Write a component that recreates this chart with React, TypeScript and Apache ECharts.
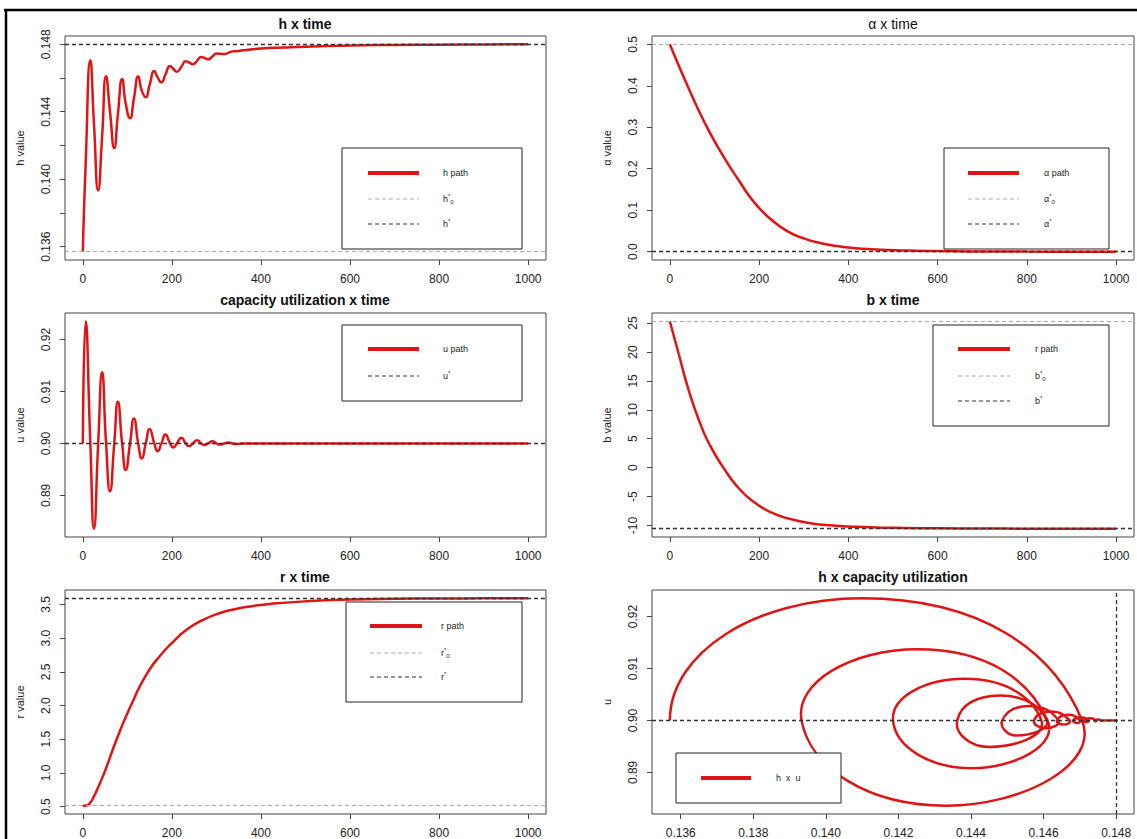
import React, { useEffect, useRef } from "react";
import * as echarts from "echarts";

// ---------------- data ----------------
// shared time grid for h and u (used also for the h x u phase plot)
const T = [0, 6.5, 16.9, 25, 34.5, 43.3, 52.2, 61, 70.6, 78.7, 88.3, 96.3, 106, 114.8, 124.4, 132.4, 141.3, 150, 160.5, 167.7, 176.6, 185.4, 195.8, 203, 211, 221.5, 231, 239, 247, 256.5, 265.7, 274, 281.7, 291, 300, 309, 318, 327, 336, 345, 360, 400, 450, 500, 600, 700, 800, 900, 1000];
const H = [0.1357, 0.141, 0.14706, 0.14332, 0.13933, 0.14251, 0.14611, 0.14403, 0.14185, 0.14383, 0.14594, 0.14449, 0.14362, 0.1448, 0.14609, 0.14525, 0.14486, 0.1456, 0.14641, 0.14605, 0.14574, 0.1462, 0.14672, 0.14655, 0.14637, 0.14668, 0.147, 0.14692, 0.14682, 0.14702, 0.14725, 0.14718, 0.14711, 0.14728, 0.14745, 0.14744, 0.14742, 0.1475, 0.14758, 0.14759, 0.14764, 0.14775, 0.14781, 0.14786, 0.14793, 0.14796, 0.14798, 0.14799, 0.148];
const U = [0.9, 0.9235, 0.9, 0.8836, 0.9, 0.9137, 0.9, 0.8908, 0.9, 0.908, 0.9, 0.8949, 0.9, 0.9048, 0.9, 0.8971, 0.9, 0.9028, 0.9, 0.8985, 0.9, 0.9017, 0.9, 0.8992, 0.9, 0.9011, 0.9, 0.8995, 0.9, 0.9006, 0.9, 0.8997, 0.9, 0.9004, 0.9, 0.8998, 0.9, 0.9002, 0.9, 0.8999, 0.9, 0.9, 0.9, 0.9, 0.9, 0.9, 0.9, 0.9, 0.9];

const TA = [0, 42, 79, 116, 154, 191, 229, 266, 303, 341, 378, 415, 453, 505, 600, 700, 800, 900, 1000];
const A = [0.5, 0.394, 0.309, 0.237, 0.1728, 0.1165, 0.076, 0.048, 0.031, 0.02, 0.013, 0.0085, 0.0058, 0.0038, 0.0014, 0.0005, 0.0002, 0.0001, 0];

const TB = [0, 20, 43, 66, 89, 120, 157, 194, 231, 268, 305, 342, 417, 505, 600, 700, 800, 900, 1000];
const B = [25.3, 19.6, 13.2, 8.05, 4.0, 0.0, -3.77, -6.24, -7.87, -8.84, -9.48, -9.87, -10.22, -10.4, -10.48, -10.52, -10.54, -10.55, -10.55];

const TR = [0, 8, 15, 23, 48, 76, 108, 142, 175, 205, 233, 271, 308, 346, 383, 420, 500, 600, 700, 800, 900, 1000];
const R = [0.515, 0.518, 0.545, 0.625, 1.0, 1.5, 2.0, 2.45, 2.75, 2.96, 3.124, 3.273, 3.372, 3.436, 3.476, 3.506, 3.545, 3.572, 3.583, 3.587, 3.589, 3.59];

const H0 = 0.1357;
const H_STAR = 0.148;
const A0 = 0.5;
const A_STAR = 0;
const U_STAR = 0.9;
const B0 = 25.3;
const B_STAR = -10.55;
const R0 = 0.515;
const R_STAR = 3.59;

const TIME_TICKS = [0, 200, 400, 600, 800, 1000];
const H_TICKS = [0.136, 0.138, 0.14, 0.142, 0.144, 0.146, 0.148];
const H_LABELS = [0.136, 0.14, 0.144, 0.148];
const A_TICKS = [0, 0.1, 0.2, 0.3, 0.4, 0.5];
const U_TICKS = [0.89, 0.9, 0.91, 0.92];
const B_TICKS = [-10, -5, 0, 5, 10, 15, 20, 25];
const R_TICKS = [0.5, 1, 1.5, 2, 2.5, 3, 3.5];

// ---------------- styling ----------------
const FONT = '"Liberation Sans", Arial, Helvetica, sans-serif';
const RED = "#e01414";
const GRAY = "#aaaaaa";
const DARK = "#333333";
const AXC = "#444444";
const TXC = "#222222";
const SMOOTH = 0.55;
const TICK_FS = 12;

const zip = (xs: number[], ys: number[]) => xs.map((x, i) => [x, ys[i]]);
const pad = (arr: number[]) => {
  const mn = Math.min(...arr);
  const mx = Math.max(...arr);
  const r = mx - mn;
  return [mn - 0.04 * r, mx + 0.04 * r];
};

const TIME_EXT = pad(T);
const H_EXT = pad(H);
const U_EXT = pad(U);
const A_EXT = pad(A);
const B_EXT = pad(B);
const R_EXT = pad(R);

function xAx(gi: number, ext: number[], ticks: number[], labels: number[], dec: number) {
  return {
    type: "value",
    gridIndex: gi,
    min: ext[0],
    max: ext[1],
    axisLine: { show: false, onZero: false },
    splitLine: { show: false },
    axisTick: { show: true, length: 5, lineStyle: { color: AXC, width: 1 }, customValues: ticks },
    axisLabel: {
      show: true,
      customValues: labels,
      formatter: (v: number) => v.toFixed(dec),
      color: TXC,
      fontSize: TICK_FS,
      fontFamily: FONT,
      margin: 13,
    },
  };
}

function yAx(gi: number, ext: number[], ticks: number[], labels: number[], dec: number, name: string) {
  return {
    type: "value",
    gridIndex: gi,
    min: ext[0],
    max: ext[1],
    axisLine: { show: false, onZero: false },
    splitLine: { show: false },
    axisTick: { show: true, length: 5, lineStyle: { color: AXC, width: 1 }, customValues: ticks },
    axisLabel: {
      show: true,
      customValues: labels,
      formatter: (v: number) => v.toFixed(dec),
      color: TXC,
      fontSize: TICK_FS,
      fontFamily: FONT,
      rotate: 90,
      margin: 13,
    },
    name,
    nameLocation: "middle",
    nameRotate: 90,
    nameGap: 40,
    nameTextStyle: { color: TXC, fontSize: 11, fontFamily: FONT },
  };
}

const lineInit = { color: GRAY, type: [4, 3], width: 1 };
const lineEq = { color: DARK, type: [4, 3], width: 1.3 };

function ml(items: any[]) {
  return {
    silent: true,
    precision: 10,
    symbol: ["none", "none"],
    label: { show: false },
    animation: false,
    emphasis: { disabled: true },
    data: items,
  };
}

function pathSeries(xi: number, data: number[][], marks: any[]) {
  return {
    type: "line",
    xAxisIndex: xi,
    yAxisIndex: xi,
    data,
    smooth: SMOOTH,
    showSymbol: false,
    symbol: "none",
    silent: true,
    lineStyle: { color: RED, width: 2.5 },
    itemStyle: { color: RED },
    z: 3,
    markLine: ml(marks),
  };
}

// smooth cubic path through pixel points (same rule as ECharts line smoothing);
// the trajectory starts at a turning point of h, so its first tangent is mirrored.
function smoothPath(pts: number[][], s: number) {
  const n = pts.length;
  const tg = pts.map((p, i) => {
    const prev = i > 0 ? pts[i - 1] : [pts[1][0], 2 * p[1] - pts[1][1]];
    const next = i < n - 1 ? pts[i + 1] : null;
    if (!next) return { ci: [0, 0], co: [0, 0] };
    const vx = next[0] - prev[0];
    const vy = next[1] - prev[1];
    const d0 = Math.hypot(p[0] - prev[0], p[1] - prev[1]);
    const d1 = Math.hypot(next[0] - p[0], next[1] - p[1]);
    const r = d0 + d1 > 0 ? d1 / (d0 + d1) : 0.5;
    return { ci: [vx * s * (1 - r), vy * s * (1 - r)], co: [vx * s * r, vy * s * r] };
  });
  let d = `M${pts[0][0].toFixed(2)} ${pts[0][1].toFixed(2)}`;
  for (let i = 1; i < n; i++) {
    const a = pts[i - 1];
    const b = pts[i];
    const c1x = a[0] + tg[i - 1].co[0];
    const c1y = a[1] + tg[i - 1].co[1];
    const c2x = b[0] - tg[i].ci[0];
    const c2y = b[1] - tg[i].ci[1];
    d += ` C${c1x.toFixed(2)} ${c1y.toFixed(2)} ${c2x.toFixed(2)} ${c2y.toFixed(2)} ${b[0].toFixed(2)} ${b[1].toFixed(2)}`;
  }
  return d;
}

// ---------------- graphic helpers (titles, legends, frame) ----------------
const Z = 100;
function title(x: number, y: number, text: string, bold = true) {
  return {
    type: "text",
    x,
    y,
    z: Z,
    style: {
      text,
      fontSize: 14,
      fontWeight: bold ? "bold" : "normal",
      fontFamily: FONT,
      fill: "#111",
      textAlign: "center",
      textVerticalAlign: "middle",
    },
  };
}

const RICH = {
  t: { fontSize: 9, fontFamily: FONT, fill: TXC, lineHeight: 12 },
  p: { fontSize: 6, fontFamily: FONT, fill: TXC, verticalAlign: "top", lineHeight: 12 },
  b: { fontSize: 6, fontFamily: FONT, fill: TXC, verticalAlign: "bottom", lineHeight: 12 },
};

function legend(box: number[], rows: { y: number; kind: string; label: string }[], lx: number[], tx: number) {
  const els: any[] = [
    {
      type: "rect",
      z: Z,
      shape: { x: box[0], y: box[1], width: box[2], height: box[3] },
      style: { fill: "#fff", stroke: "#222", lineWidth: 1 },
    },
  ];
  rows.forEach((r) => {
    const st =
      r.kind === "path"
        ? { stroke: RED, lineWidth: 4 }
        : r.kind === "init"
        ? { stroke: GRAY, lineWidth: 1, lineDash: [4, 3] }
        : { stroke: DARK, lineWidth: 1.2, lineDash: [4, 3] };
    els.push({ type: "line", z: Z + 1, shape: { x1: lx[0], y1: r.y, x2: lx[1], y2: r.y }, style: st });
    els.push({
      type: "text",
      z: Z + 1,
      x: tx,
      y: r.y,
      style: { text: r.label, rich: RICH, fontSize: 9, fontFamily: FONT, fill: TXC, textAlign: "left", textVerticalAlign: "middle" },
    });
  });
  return els;
}

const graphics: any[] = [
  { type: "line", z: Z, shape: { x1: 4, y1: 10, x2: 1137, y2: 10 }, style: { stroke: "#000", lineWidth: 2.5 } },
  { type: "line", z: Z, shape: { x1: 6, y1: 9, x2: 6, y2: 839 }, style: { stroke: "#000", lineWidth: 2.5 } },
  title(305, 24, "h x time"),
  title(893, 24, "α x time", false),
  title(305, 300, "capacity utilization x time"),
  title(893, 300, "b x time"),
  title(305, 577, "r x time"),
  title(893, 577, "h x capacity utilization"),
  ...legend(
    [342, 148, 180, 101],
    [
      { y: 173, kind: "path", label: "{t|h path}" },
      { y: 199, kind: "init", label: "{t|h}{p|*}{b|0}" },
      { y: 224, kind: "eq", label: "{t|h}{p|*}" },
    ],
    [368, 419],
    443
  ),
  ...legend(
    [944, 148, 165, 101],
    [
      { y: 173, kind: "path", label: "{t|α path}" },
      { y: 199, kind: "init", label: "{t|α}{p|*}{b|0}" },
      { y: 224, kind: "eq", label: "{t|α}{p|*}" },
    ],
    [968, 1019],
    1044
  ),
  ...legend(
    [342, 325, 180, 76],
    [
      { y: 349, kind: "path", label: "{t|u path}" },
      { y: 376, kind: "eq", label: "{t|u}{p|*}" },
    ],
    [368, 419],
    443
  ),
  ...legend(
    [933, 325, 176, 101],
    [
      { y: 349, kind: "path", label: "{t|r path}" },
      { y: 376, kind: "init", label: "{t|b}{p|*}{b|0}" },
      { y: 401, kind: "eq", label: "{t|b}{p|*}" },
    ],
    [958, 1010],
    1035
  ),
  ...legend(
    [346, 602, 176, 100],
    [
      { y: 626, kind: "path", label: "{t|r path}" },
      { y: 653, kind: "init", label: "{t|r}{p|*}{b|0}" },
      { y: 677, kind: "eq", label: "{t|r}{p|*}" },
    ],
    [370, 422],
    441
  ),
  ...legend([676, 753, 165, 50], [{ y: 778, kind: "path", label: "{t|h  x  u}" }], [701, 751], 776),
];

const gridBase = { show: true, borderColor: AXC, borderWidth: 1, backgroundColor: "transparent", containLabel: false };

const phaseSeries = {
  type: "custom",
  coordinateSystem: "cartesian2d",
  xAxisIndex: 5,
  yAxisIndex: 5,
  data: zip(H, U),
  encode: { x: 0, y: 1 },
  silent: true,
  z: 3,
  renderItem: (params: any, api: any) => {
    if (params.dataIndex !== 0) return null;
    const pts = H.map((h, i) => api.coord([h, U[i]]));
    return {
      type: "path",
      shape: { pathData: smoothPath(pts, SMOOTH) },
      style: { fill: "none", stroke: RED, lineWidth: 2.5 },
    };
  },
  markLine: ml([
    { yAxis: U_STAR, lineStyle: lineEq },
    { xAxis: H_STAR, lineStyle: lineEq },
  ]),
};

const option: any = {
  animation: false,
  backgroundColor: "#ffffff",
  grid: [
    { ...gridBase, left: 65, top: 36, width: 481, height: 224 },
    { ...gridBase, left: 652, top: 36, width: 482, height: 224 },
    { ...gridBase, left: 65, top: 313, width: 481, height: 224 },
    { ...gridBase, left: 652, top: 313, width: 482, height: 224 },
    { ...gridBase, left: 65, top: 590, width: 481, height: 225 },
    { ...gridBase, left: 652, top: 590, width: 482, height: 225 },
  ],
  xAxis: [
    xAx(0, TIME_EXT, TIME_TICKS, TIME_TICKS, 0),
    xAx(1, TIME_EXT, TIME_TICKS, TIME_TICKS, 0),
    xAx(2, TIME_EXT, TIME_TICKS, TIME_TICKS, 0),
    xAx(3, TIME_EXT, TIME_TICKS, TIME_TICKS, 0),
    xAx(4, TIME_EXT, TIME_TICKS, TIME_TICKS, 0),
    xAx(5, H_EXT, H_TICKS, H_TICKS, 3),
  ],
  yAxis: [
    yAx(0, H_EXT, H_TICKS, H_LABELS, 3, "h value"),
    yAx(1, A_EXT, A_TICKS, A_TICKS, 1, "α value"),
    yAx(2, U_EXT, U_TICKS, U_TICKS, 2, "u value"),
    yAx(3, B_EXT, B_TICKS, B_TICKS, 0, "b value"),
    yAx(4, R_EXT, R_TICKS, R_TICKS, 1, "r value"),
    yAx(5, U_EXT, U_TICKS, U_TICKS, 2, "u"),
  ],
  series: [
    pathSeries(0, zip(T, H), [
      { yAxis: H0, lineStyle: lineInit },
      { yAxis: H_STAR, lineStyle: lineEq },
    ]),
    pathSeries(1, zip(TA, A), [
      { yAxis: A0, lineStyle: lineInit },
      { yAxis: A_STAR, lineStyle: lineEq },
    ]),
    pathSeries(2, zip(T, U), [{ yAxis: U_STAR, lineStyle: lineEq }]),
    pathSeries(3, zip(TB, B), [
      { yAxis: B0, lineStyle: lineInit },
      { yAxis: B_STAR, lineStyle: lineEq },
    ]),
    pathSeries(4, zip(TR, R), [
      { yAxis: R0, lineStyle: lineInit },
      { yAxis: R_STAR, lineStyle: lineEq },
    ]),
    phaseSeries,
  ],
  graphic: { elements: graphics },
};

export default function App() {
  const ref = useRef<HTMLDivElement>(null);
  useEffect(() => {
    if (!ref.current) return;
    const chart = echarts.init(ref.current, undefined, { renderer: "svg" });
    chart.setOption(option);
    return () => chart.dispose();
  }, []);
  return (
    <div
      ref={ref}
      style={{ position: "fixed", left: 0, top: 0, width: 1137, height: 839, background: "#fff" }}
    />
  );
}
